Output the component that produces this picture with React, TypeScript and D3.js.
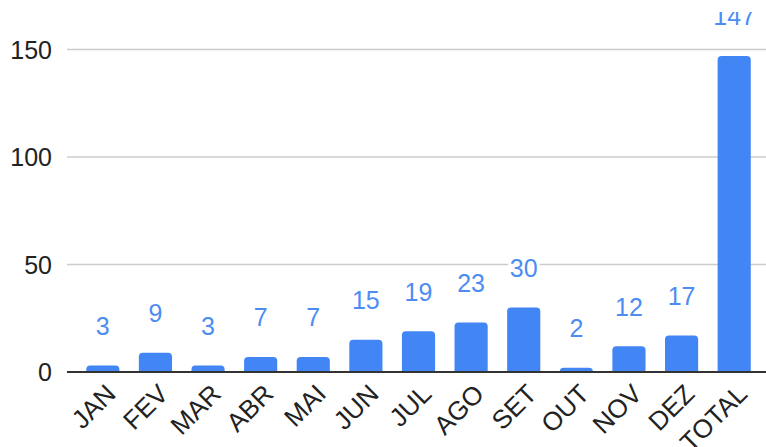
import React from "react";
import * as d3 from "d3";

const categories = ["JAN", "FEV", "MAR", "ABR", "MAI", "JUN", "JUL", "AGO", "SET", "OUT", "NOV", "DEZ", "TOTAL"];
const values = [3, 9, 3, 7, 7, 15, 19, 23, 30, 2, 12, 17, 147];
const yTicks = [0, 50, 100, 150];

const W = 766;
const H = 447;
const FONT = "'Liberation Sans', Arial, sans-serif";

function topRoundedBar(x: number, y: number, w: number, h: number, r: number) {
  const rr = Math.max(0, Math.min(r, h, w / 2));
  const p = d3.path();
  p.moveTo(x, y + h);
  p.lineTo(x, y + rr);
  p.arcTo(x, y, x + rr, y, rr);
  p.lineTo(x + w - rr, y);
  p.arcTo(x + w, y, x + w, y + rr, rr);
  p.lineTo(x + w, y + h);
  p.closePath();
  return p.toString();
}

export default function App() {
  const x = d3
    .scaleBand<string>()
    .domain(categories)
    .range([76.5, 760.5])
    .paddingInner(0.37)
    .paddingOuter(0.185);
  const y = d3.scaleLinear().domain([0, 150]).range([372, 49.5]);
  const gridLeft = 67;

  return (
    <svg
      width={W}
      height={H}
      viewBox={`0 0 ${W} ${H}`}
      style={{ position: "absolute", left: 0, top: 0, background: "#fff" }}
    >
      <defs>
        <clipPath id="labelClip">
          <rect x={0} y={12} width={W} height={H - 12} />
        </clipPath>
      </defs>
      <rect x={0} y={0} width={W} height={H} fill="#fff" />
      {yTicks.filter((t) => t !== 0).map((t) => (
        <line key={t} x1={gridLeft} x2={W} y1={y(t)} y2={y(t)} stroke="#cccccc" strokeWidth={1.6} />
      ))}
      {yTicks.map((t) => (
        <text
          key={"yl" + t}
          x={52}
          y={y(t)}
          dy="0.36em"
          textAnchor="end"
          fontFamily={FONT}
          fontSize={25}
          fill="#222"
        >
          {t}
        </text>
      ))}
      {categories.map((c, i) => {
        const bx = x(c)!;
        const by = y(values[i]);
        return (
          <path
            key={"b" + c}
            d={topRoundedBar(bx, by, x.bandwidth(), y(0) - by, 4)}
            fill="#4285f4"
          />
        );
      })}
      <line x1={gridLeft} x2={W} y1={y(0)} y2={y(0)} stroke="#333" strokeWidth={2} />
      <g clipPath="url(#labelClip)">
        {categories.map((c, i) => (
          <text
            key={"v" + c}
            x={x(c)! + x.bandwidth() / 2}
            y={y(values[i]) - 30.5}
            textAnchor="middle"
            fontFamily={FONT}
            fontSize={25}
            fill="#4d8cf2"
            stroke="#fff"
            strokeWidth={6}
            paintOrder="stroke"
            strokeLinejoin="round"
          >
            {values[i]}
          </text>
        ))}
      </g>
      {categories.map((c) => {
        const cx = x(c)! + x.bandwidth() / 2;
        return (
          <text
            key={"xl" + c}
            transform={`translate(${cx + 8},${389}) rotate(-45)`}
            dy="0.35em"
            textAnchor="end"
            fontFamily={FONT}
            fontSize={26}
            fill="#222"
          >
            {c}
          </text>
        );
      })}
    </svg>
  );
}
